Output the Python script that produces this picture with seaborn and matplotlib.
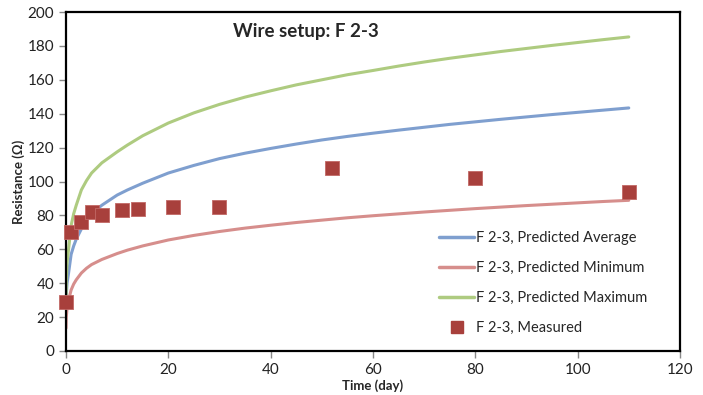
import numpy as np
import pandas as pd
import matplotlib
matplotlib.use('Agg')
import matplotlib.pyplot as plt
from matplotlib.lines import Line2D
import seaborn as sns

# 读取的曲线数据
days_curve = [0.005, 0.05, 0.2, 0.5, 1, 1.5, 2, 3, 4, 5, 7, 10, 12, 15, 20, 25, 30, 35, 40, 45,
              50, 55, 60, 65, 70, 75, 80, 85, 90, 95, 100, 105, 110]
pred_avg = [24, 33, 40, 46, 57, 62, 66, 72, 77, 81, 86, 92, 95, 99, 105, 109.5, 113.5, 116.7, 119.5, 122.1,
            124.5, 126.6, 128.5, 130.3, 132, 133.7, 135.2, 136.7, 138.1, 139.5, 140.8, 142.1, 143.4]
pred_min = [13.5, 20, 25, 30, 36, 39.5, 42, 46, 48.8, 51, 54, 57.5, 59.5, 62, 65.5, 68.2, 70.5, 72.5, 74.2, 75.8,
            77.2, 78.6, 79.8, 80.9, 82, 83, 84, 84.9, 85.8, 86.6, 87.4, 88.2, 88.9]
pred_max = [28, 42, 52, 60, 74, 81, 86, 95, 100.5, 105, 111, 117.5, 121.5, 127, 134.5, 140.5, 145.5, 149.8, 153.5, 157,
            160, 163, 165.5, 168.1, 170.5, 172.7, 174.7, 176.7, 178.5, 180.3, 182, 183.7, 185.3]

# 实测数据
days_meas = [0, 1, 3, 5, 7, 11, 14, 21, 30, 52, 80, 110]
measured = [29, 70, 76, 82, 80, 83, 84, 85, 85, 108, 102, 94]

labels = ['F 2-3, Predicted Average', 'F 2-3, Predicted Minimum',
          'F 2-3, Predicted Maximum', 'F 2-3, Measured']
colors = ['#7F9FCF', '#D68E8C', '#AECB80', '#A8403C']

sns.set_theme(style='white')
plt.rcParams['font.family'] = ['Lato', 'DejaVu Sans']

fig = plt.figure(figsize=(7.03, 3.95), dpi=100)
ax = fig.add_axes([0.0939, 0.1114, 0.8733, 0.8582])

curves = pd.DataFrame({'day': days_curve, 'avg': pred_avg, 'min': pred_min, 'max': pred_max})
for col, c in zip(['avg', 'min', 'max'], colors[:3]):
    sns.lineplot(data=curves, x='day', y=col, color=c, linewidth=2.2, ax=ax)

meas = pd.DataFrame({'day': days_meas, 'r': measured})
sns.scatterplot(data=meas, x='day', y='r', marker='s', s=95, color=colors[3],
                edgecolor='#C26966', linewidth=0.6, ax=ax, zorder=5, clip_on=False)

ax.set_xlim(0, 120)
ax.set_ylim(0, 200)
ax.set_xticks(range(0, 121, 20))
ax.set_yticks(range(0, 201, 20))
ax.tick_params(axis='both', direction='out', length=5, width=1, color='#888888',
               labelsize=11, colors='#222222', bottom=True, left=True)
for s in ax.spines.values():
    s.set_color('black')
    s.set_linewidth(1.6)

ax.set_xlabel('Time (day)', fontsize=9.5, fontweight='bold', labelpad=2)
ax.set_ylabel('Resistance (Ω)', fontsize=9.5, fontweight='bold', labelpad=2)
ax.text(0.39, 0.942, 'Wire setup: F 2-3', transform=ax.transAxes, fontsize=13.5,
        fontweight='bold', ha='center', va='center')

handles = [Line2D([0], [0], color=colors[0], lw=2.5),
           Line2D([0], [0], color=colors[1], lw=2.5),
           Line2D([0], [0], color=colors[2], lw=2.5),
           Line2D([0], [0], color=colors[3], marker='s', ls='none', markersize=9)]
ax.legend(handles, labels, loc='lower right', bbox_to_anchor=(0.968, 0.008), frameon=False,
          fontsize=10.5, labelspacing=1.1, handlelength=2.4, handletextpad=0.1)

fig.savefig('out.png', dpi=100)
